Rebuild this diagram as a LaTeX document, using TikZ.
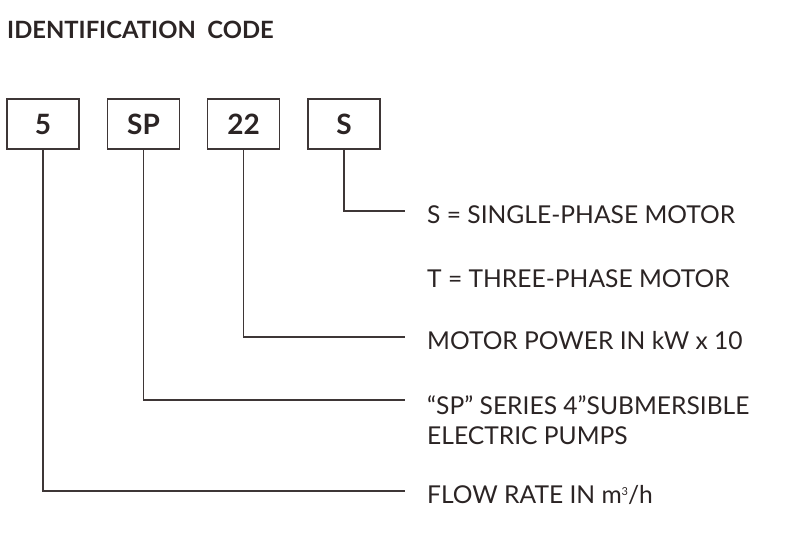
\documentclass[tikz,border=0pt]{standalone}
\usepackage{fontspec}
\setmainfont{Lato}
\definecolor{ink}{HTML}{2B2424}
\definecolor{ln}{HTML}{3E3636}
\begin{document}
\begin{tikzpicture}[x=1pt,y=-1pt,
  codebox/.style={draw=ln,line width=1.1pt,minimum width=72pt,minimum height=50pt,inner sep=0pt,font=\fontsize{28}{30}\selectfont\bfseries,text=ink},
  lead/.style={draw=ln,line width=1.1pt},
  desc/.style={anchor=west,inner sep=0pt,text=ink,font=\fontsize{24.6}{30}\selectfont,align=left}]
\useasboundingbox (0,0) rectangle (800,535);
\node[anchor=base west,inner sep=0pt,text=ink,font=\fontsize{23.8}{28}\selectfont\bfseries] (title) at (7,38) {IDENTIFICATION\ \ CODE};
\node[codebox] (b1) at (43,124) {5};
\node[codebox] (b2) at (143.5,124) {SP};
\node[codebox] (b3) at (243.5,124) {22};
\node[codebox] (b4) at (344,124) {S};
\node[desc] (d4) at (427,215) {S = SINGLE-PHASE MOTOR};
\node[desc] (d4b) at (427,279) {T = THREE-PHASE MOTOR};
\node[desc] (d3) at (427,341) {MOTOR POWER IN kW x 10};
\node[desc] (d2) at (427,420) {“SP” SERIES 4”SUBMERSIBLE\\ELECTRIC PUMPS};
\node[desc] (d1) at (427,495) {FLOW RATE IN m\raisebox{8pt}{\fontsize{11}{11}\selectfont 3}/h};
\coordinate (e4) at (405,211);
\coordinate (e3) at (405,337);
\coordinate (e2) at (405,400);
\coordinate (e1) at (405,491);
\draw[lead] (b4.south) |- (e4);
\draw[lead] (b3.south) |- (e3);
\draw[lead] (b2.south) |- (e2);
\draw[lead] (b1.south) |- (e1);
\end{tikzpicture}
\end{document}
